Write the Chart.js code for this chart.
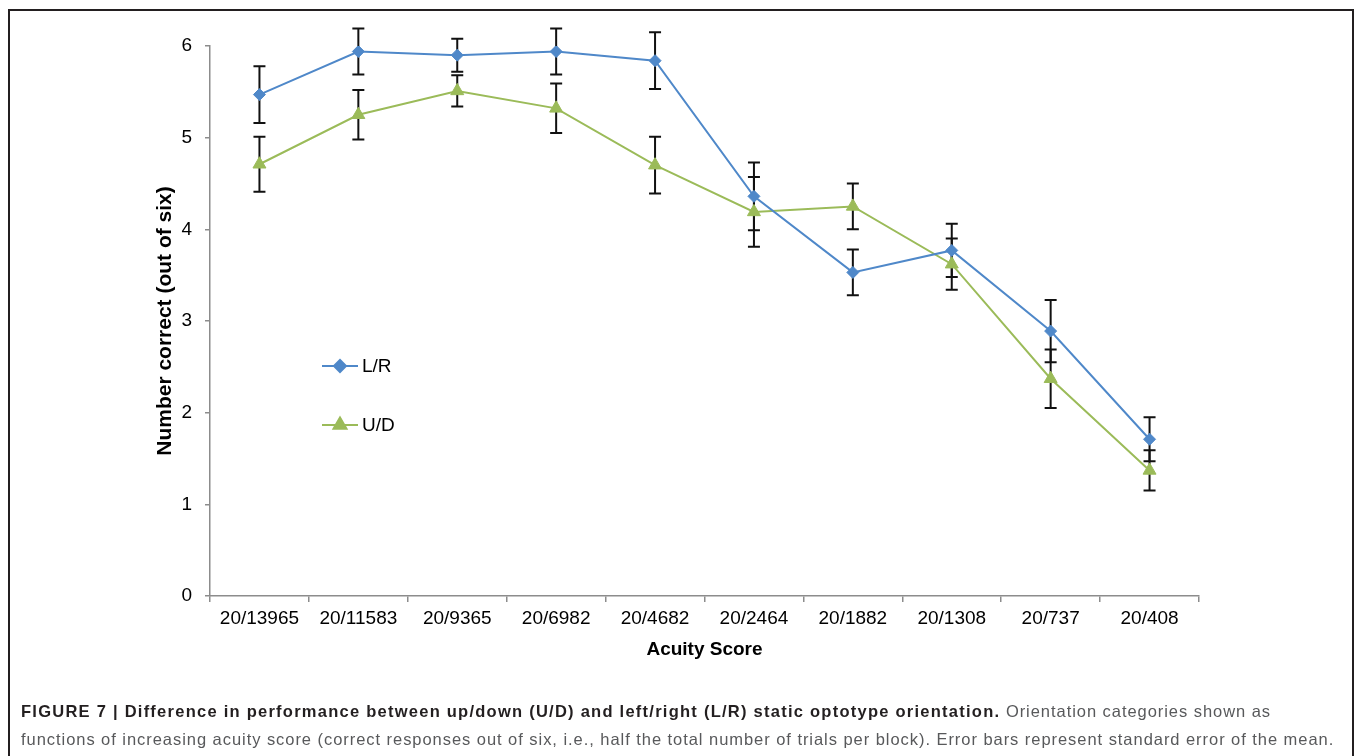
<!DOCTYPE html>
<html>
<head>
<meta charset="utf-8">
<script src="https://cdn.jsdelivr.net/npm/chart.js@4/dist/chart.umd.min.js"></script>
<style>
  html, body { margin: 0; padding: 0; background: #fff; }
  body { width: 1355px; height: 756px; position: relative; overflow: hidden; font-family: "Liberation Sans", Arial, sans-serif; }
  #frame { position: absolute; left: 8px; top: 9px; width: 1342px; height: 800px; border: 2px solid #231f20; border-bottom: none; }
  #wrap { position: absolute; left: 0; top: 0; width: 1355px; height: 700px; }
  #caption { position: absolute; left: 21px; top: 697px; font-size: 16.5px; line-height: 28px; color: #58595b; white-space: nowrap; letter-spacing: 0.95px; }
  #caption b { color: #231f20; letter-spacing: 1.25px; }
</style>
</head>
<body>
<div id="frame"></div>
<div id="wrap"><canvas id="chart"></canvas></div>
<div id="caption"><b>FIGURE 7 | Difference in performance between up/down (U/D) and left/right (L/R) static optotype orientation.</b> Orientation categories shown as<br>functions of increasing acuity score (correct responses out of six, i.e., half the total number of trials per block). Error bars represent standard error of the mean.</div>
<script>
// Acuity categories (x axis)
const categories = ['20/13965', '20/11583', '20/9365', '20/6982', '20/4682', '20/2464', '20/1882', '20/1308', '20/737', '20/408'];

// Mean number correct (out of six) and standard error, left/right orientation
const lrMeans = [5.47, 5.94, 5.90, 5.94, 5.84, 4.36, 3.53, 3.77, 2.89, 1.71];
const lrSE    = [0.31, 0.25, 0.18, 0.25, 0.31, 0.37, 0.25, 0.29, 0.34, 0.24];

// Mean number correct and standard error, up/down orientation
const udMeans = [4.71, 5.25, 5.51, 5.32, 4.70, 4.19, 4.25, 3.62, 2.37, 1.37];
const udSE    = [0.30, 0.27, 0.17, 0.27, 0.31, 0.38, 0.25, 0.28, 0.32, 0.22];

// Y axis tick values
const yTicks = [0, 1, 2, 3, 4, 5, 6];

const BLUE = '#4f88c9';
const GREEN = '#9bbb59';
const AXIS = '#8c8c8c';
const FONT = '"Liberation Sans", Arial, sans-serif';

// Vertical standard-error bars with caps, drawn under the markers
const errorBars = {
  id: 'errorBars',
  beforeDatasetsDraw(chart) {
    const ctx = chart.ctx;
    const y = chart.scales.y;
    ctx.save();
    ctx.strokeStyle = '#111';
    ctx.lineWidth = 2;
    chart.data.datasets.forEach((ds, di) => {
      const meta = chart.getDatasetMeta(di);
      ds.errors.forEach((e, i) => {
        const px = meta.data[i].x;
        const top = y.getPixelForValue(ds.data[i] + e);
        const bot = y.getPixelForValue(ds.data[i] - e);
        const cap = 6;
        ctx.beginPath();
        ctx.moveTo(px, top); ctx.lineTo(px, bot);
        ctx.moveTo(px - cap, top); ctx.lineTo(px + cap, top);
        ctx.moveTo(px - cap, bot); ctx.lineTo(px + cap, bot);
        ctx.stroke();
      });
    });
    ctx.restore();
  }
};

// Legend placed inside the plot: a short line with the series marker, then the name
const innerLegend = {
  id: 'innerLegend',
  afterDatasetsDraw(chart) {
    const ctx = chart.ctx;
    const a = chart.chartArea;
    const x0 = a.left + 112, x1 = a.left + 148, xm = (x0 + x1) / 2;
    const rows = [
      { y: a.top + 320, ds: chart.data.datasets[0] },
      { y: a.top + 379, ds: chart.data.datasets[1] }
    ];
    ctx.save();
    rows.forEach(r => {
      ctx.strokeStyle = r.ds.borderColor;
      ctx.fillStyle = r.ds.borderColor;
      ctx.lineWidth = 2;
      ctx.beginPath(); ctx.moveTo(x0, r.y); ctx.lineTo(x1, r.y); ctx.stroke();
      Chart.helpers.drawPoint(ctx, {
        pointStyle: r.ds.pointStyle, radius: r.ds.pointRadius, borderWidth: 1, rotation: 0
      }, xm, r.y);
      ctx.fillStyle = '#000';
      ctx.font = '19px ' + FONT;
      ctx.textBaseline = 'middle';
      ctx.textAlign = 'left';
      ctx.fillText(r.ds.label, x1 + 4, r.y + 1);
    });
    ctx.restore();
  }
};

new Chart(document.getElementById('chart'), {
  type: 'line',
  data: {
    labels: categories,
    datasets: [
      {
        label: 'L/R', data: lrMeans, errors: lrSE,
        borderColor: BLUE, backgroundColor: BLUE, borderWidth: 2,
        pointStyle: 'rectRot', pointRadius: 6, pointBorderWidth: 1,
        pointBackgroundColor: BLUE, pointBorderColor: BLUE, tension: 0
      },
      {
        label: 'U/D', data: udMeans, errors: udSE,
        borderColor: GREEN, backgroundColor: GREEN, borderWidth: 2,
        pointStyle: 'triangle', pointRadius: 7.5, pointBorderWidth: 1,
        pointBackgroundColor: GREEN, pointBorderColor: GREEN, tension: 0
      }
    ]
  },
  options: {
    responsive: true,
    maintainAspectRatio: false,
    animation: false,
    devicePixelRatio: 1,
    layout: { padding: { left: 150, right: 156, top: 46, bottom: 24 } },
    plugins: { legend: { display: false }, tooltip: { enabled: false } },
    scales: {
      x: {
        offset: true,
        grid: { display: true, drawOnChartArea: false, offset: true, tickLength: 6, color: AXIS, lineWidth: 1.5 },
        border: { display: true, color: AXIS, width: 1.5 },
        ticks: { color: '#000', font: { family: FONT, size: 19 }, padding: 5, maxRotation: 0, autoSkip: false },
        title: { display: true, text: 'Acuity Score', color: '#000', font: { family: FONT, size: 19, weight: 'bold' }, padding: { top: 0, bottom: 15 } },
        afterFit(scale) { scale.height = 80; }
      },
      y: {
        min: yTicks[0], max: yTicks[yTicks.length - 1],
        afterBuildTicks(scale) { scale.ticks = yTicks.map(v => ({ value: v })); },
        grid: { display: true, drawOnChartArea: false, tickLength: 5, color: AXIS, lineWidth: 1.5 },
        border: { display: true, color: AXIS, width: 1.5 },
        ticks: { color: '#000', font: { family: FONT, size: 19 }, padding: 13 },
        title: { display: true, text: 'Number correct (out of six)', color: '#000', font: { family: FONT, size: 21, weight: 'bold' }, padding: { top: 3, bottom: 0 } },
        afterFit(scale) { scale.width = 60; }
      }
    }
  },
  plugins: [errorBars, innerLegend]
});
</script>
</body>
</html>
